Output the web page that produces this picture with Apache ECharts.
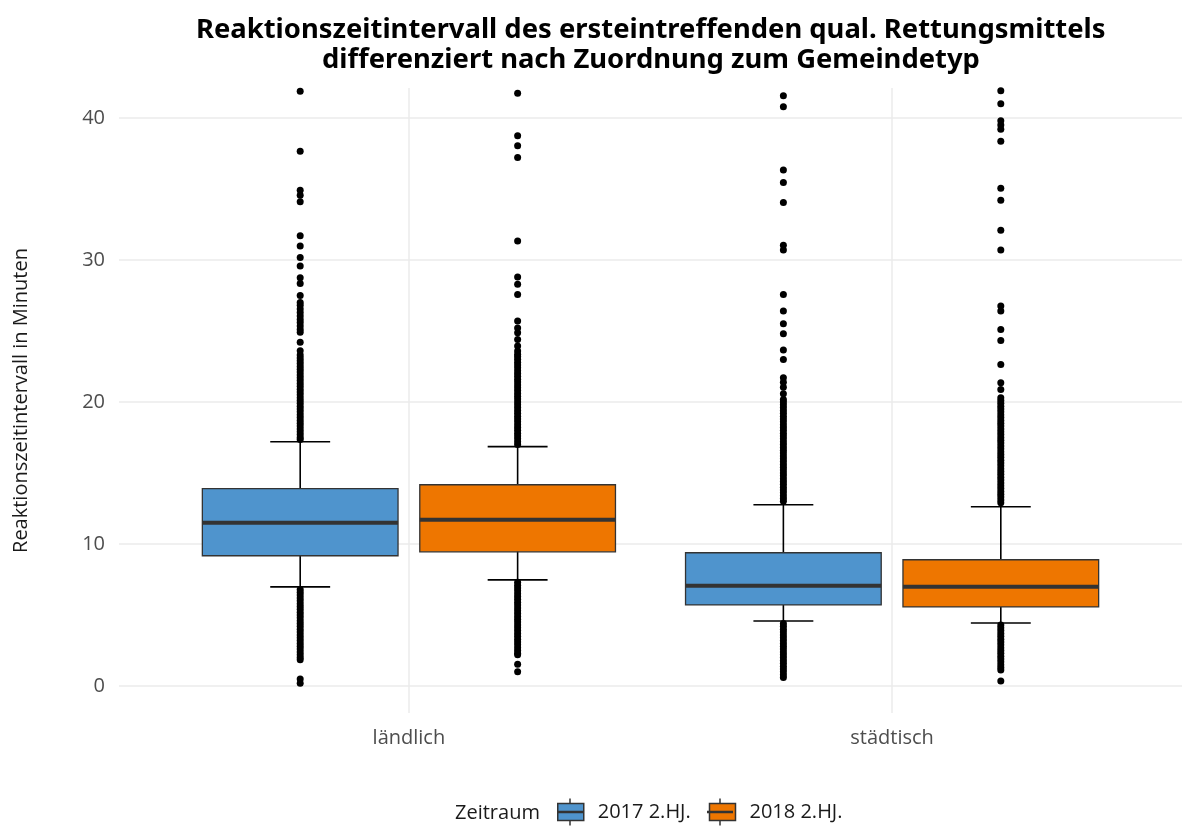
<!DOCTYPE html>
<html><head><meta charset="utf-8">
<script src="https://cdn.jsdelivr.net/npm/echarts@6/dist/echarts.min.js"></script>
<style>html,body{margin:0;padding:0;background:#fff}#c{width:1182px;height:827px}</style>
</head><body><div id="c"></div>
<script>
// ---- data ----
const categories = ['ländlich', 'städtisch'];
const periods = ['2017 2.HJ.', '2018 2.HJ.'];
const periodColors = ['#4F94CD', '#EE7600'];
const yTicks = [0, 10, 20, 30, 40];
const titleLines = ['Reaktionszeitintervall des ersteintreffenden qual. Rettungsmittels', 'differenziert nach Zuordnung zum Gemeindetyp'];
// [lowerWhisker, Q1, median, Q3, upperWhisker] per category
const stats2017 = [[6.98, 9.17, 11.5, 13.9, 17.2], [4.58, 5.71, 7.05, 9.38, 12.76]];
const stats2018 = [[7.47, 9.45, 11.7, 14.17, 16.85], [4.44, 5.57, 6.98, 8.89, 12.62]];
// outliers per category
const outliers2017 = [
  [41.87, 37.64, 34.9, 34.55, 34.1, 31.69, 30.98, 30.16, 29.57, 28.75, 28.33, 27.5, 27.0, 26.8, 26.55, 26.3, 26.05, 25.8, 25.6, 25.35, 25.1, 24.9, 24.2, 23.6, 23.3, 23.1, 22.9, 22.7, 22.5, 22.3, 22.1, 21.9, 21.7, 21.5, 21.3, 21.1, 20.9, 20.7, 20.5, 20.3, 20.1, 19.9, 19.7, 19.5, 19.3, 19.1, 18.9, 18.7, 18.5, 18.3, 18.1, 17.9, 17.7, 17.5, 17.35,
   6.8, 6.6, 6.4, 6.2, 6.0, 5.8, 5.6, 5.4, 5.2, 5.0, 4.8, 4.6, 4.4, 4.2, 4.0, 3.8, 3.6, 3.4, 3.2, 3.0, 2.8, 2.6, 2.4, 2.2, 2.0, 1.85, 0.5, 0.2],
  [41.56, 40.78, 36.32, 35.45, 34.04, 31.03, 30.7, 27.57, 26.4, 25.5, 24.8, 23.65, 22.99, 21.7, 21.39, 21.04, 20.57, 20.17, 20.0, 19.8, 19.6, 19.4, 19.2, 19.0, 18.8, 18.6, 18.4, 18.2, 18.0, 17.8, 17.6, 17.4, 17.2, 17.0, 16.8, 16.6, 16.4, 16.2, 16.0, 15.8, 15.6, 15.4, 15.2, 15.0, 14.8, 14.6, 14.4, 14.2, 14.0, 13.8, 13.6, 13.4, 13.2, 13.0,
   4.4, 4.2, 4.0, 3.8, 3.6, 3.4, 3.2, 3.0, 2.8, 2.6, 2.4, 2.2, 2.0, 1.8, 1.6, 1.4, 1.2, 1.0, 0.8, 0.6]
];
const outliers2018 = [
  [41.73, 38.74, 38.03, 37.21, 31.33, 28.8, 28.28, 27.57, 25.69, 25.2, 24.87, 24.4, 23.93, 23.58, 23.35, 23.2, 23.0, 22.8, 22.6, 22.4, 22.2, 22.0, 21.8, 21.6, 21.4, 21.2, 21.0, 20.8, 20.6, 20.4, 20.2, 20.0, 19.8, 19.6, 19.4, 19.2, 19.0, 18.8, 18.6, 18.4, 18.2, 18.0, 17.8, 17.6, 17.4, 17.2, 17.0,
   7.3, 7.1, 6.9, 6.7, 6.5, 6.3, 6.1, 5.9, 5.7, 5.5, 5.3, 5.1, 4.9, 4.7, 4.5, 4.3, 4.1, 3.9, 3.7, 3.5, 3.3, 3.1, 2.9, 2.7, 2.5, 2.3, 2.2, 1.53, 1.01],
  [41.9, 41.0, 39.8, 39.5, 39.2, 38.35, 35.05, 34.2, 32.09, 30.7, 26.75, 26.4, 25.1, 24.33, 22.64, 21.35, 20.87, 20.3, 20.1, 19.9, 19.7, 19.5, 19.3, 19.1, 18.9, 18.7, 18.5, 18.3, 18.1, 17.9, 17.7, 17.5, 17.3, 17.1, 16.9, 16.7, 16.5, 16.3, 16.1, 15.9, 15.7, 15.5, 15.3, 15.1, 14.9, 14.7, 14.5, 14.3, 14.1, 13.9, 13.7, 13.5, 13.3, 13.1, 12.9,
   4.3, 4.1, 3.9, 3.7, 3.5, 3.3, 3.1, 2.9, 2.7, 2.5, 2.3, 2.1, 1.9, 1.7, 1.5, 1.3, 1.13, 0.35]
];

// ---- chart ----
const DODGE = 0.225, BOXW = 0.405, CAPW = 0.124;
const allStats = [stats2017, stats2018];
const allOut = [outliers2017, outliers2018];
const FONT = 'Open Sans';
const FS = 20;
const TITLE_FONT = 'Noto Sans';
const TITLE_CENTER = 651, TITLE_W = 910;

// fit title font so line 1 spans the reference width, then center each line
const mctx = document.createElement('canvas').getContext('2d');
function textW(t, fs) { mctx.font = 'bold ' + fs + 'px "' + TITLE_FONT + '"'; return mctx.measureText(t).width; }
const titleFS = Math.round(26 * TITLE_W / textW(titleLines[0], 26) * 10) / 10;

function boxRender(pi) {
  return function (params, api) {
    const ci = api.value(0);
    const x = ci + 1 + (pi === 0 ? -DODGE : DODGE);
    const lo = api.coord([x, api.value(1)]);
    const q1 = api.coord([x, api.value(2)]);
    const md = api.coord([x, api.value(3)]);
    const q3 = api.coord([x, api.value(4)]);
    const hi = api.coord([x, api.value(5)]);
    const left = api.coord([x - BOXW / 2, 0])[0];
    const right = api.coord([x + BOXW / 2, 0])[0];
    const cl = api.coord([x - CAPW / 2, 0])[0];
    const cr = api.coord([x + CAPW / 2, 0])[0];
    const line = { stroke: '#000', lineWidth: 1.6 };
    return {
      type: 'group',
      children: [
        { type: 'line', shape: { x1: lo[0], y1: lo[1], x2: hi[0], y2: hi[1] }, style: line },
        { type: 'line', shape: { x1: cl, y1: lo[1], x2: cr, y2: lo[1] }, style: line },
        { type: 'line', shape: { x1: cl, y1: hi[1], x2: cr, y2: hi[1] }, style: line },
        { type: 'rect', shape: { x: left, y: q3[1], width: right - left, height: q1[1] - q3[1] },
          style: { fill: periodColors[pi], stroke: '#333', lineWidth: 1.3 } },
        { type: 'line', shape: { x1: left, y1: md[1], x2: right, y2: md[1] }, style: { stroke: '#333', lineWidth: 4 } }
      ]
    };
  };
}

const series = [];
periods.forEach((p, pi) => {
  series.push({
    name: p, type: 'custom', renderItem: boxRender(pi),
    itemStyle: { color: periodColors[pi] },
    encode: { x: 0, y: [1, 2, 3, 4, 5] },
    data: allStats[pi].map((s, ci) => [ci, ...s]),
    z: 3
  });
});
periods.forEach((p, pi) => {
  const pts = [];
  allOut[pi].forEach((arr, ci) => {
    const x = ci + 1 + (pi === 0 ? -DODGE : DODGE);
    arr.forEach(v => pts.push([x, v]));
  });
  series.push({
    name: p + ' Ausreißer', type: 'scatter', symbolSize: 7,
    itemStyle: { color: '#000', opacity: 1 }, data: pts, z: 4, silent: true
  });
});

// legend key decorations (median line + whisker stubs)
const KEY_W = 26, KEY_H = 17, LEG_CY = 812;
const keyXs = [557, 707];
const keyDeco = [];
keyXs.forEach(kx => {
  const top = LEG_CY - KEY_H / 2, cx = kx + KEY_W / 2;
  keyDeco.push({ type: 'line', z: 100, shape: { x1: kx, y1: LEG_CY, x2: kx + KEY_W, y2: LEG_CY }, style: { stroke: '#333', lineWidth: 2.5 } });
  keyDeco.push({ type: 'line', z: 100, shape: { x1: cx, y1: top - 5, x2: cx, y2: top }, style: { stroke: '#333', lineWidth: 1.5 } });
  keyDeco.push({ type: 'line', z: 100, shape: { x1: cx, y1: top + KEY_H, x2: cx, y2: top + KEY_H + 5 }, style: { stroke: '#333', lineWidth: 1.5 } });
});

const chart = echarts.init(document.getElementById('c'), null, { renderer: 'canvas' });
chart.setOption({
  animation: false,
  backgroundColor: '#fff',
  title: titleLines.map((t, i) => ({
    text: t,
    left: Math.round(TITLE_CENTER - textW(t, titleFS) / 2), top: 15 + i * 30, padding: 0,
    textStyle: { fontFamily: TITLE_FONT, fontWeight: 'bold', fontSize: titleFS, lineHeight: 30, color: '#000' }
  })),
  grid: { left: 119, right: -4, top: 88, bottom: 114, containLabel: false },
  xAxis: {
    type: 'value', min: 0.4, max: 2.6,
    axisLine: { show: false },
    axisTick: { show: false, customValues: [1, 2] },
    axisLabel: { customValues: [1, 2], formatter: v => categories[Math.round(v) - 1] || '',
      color: '#4d4d4d', fontFamily: FONT, fontSize: FS, margin: 15 },
    splitLine: { show: true, lineStyle: { color: '#ebebeb', width: 1.5 } }
  },
  yAxis: {
    type: 'value', min: -1.9, max: 42.1,
    name: 'Reaktionszeitintervall in Minuten', nameLocation: 'middle', nameGap: 88,
    nameTextStyle: { fontFamily: FONT, fontSize: FS, color: '#1a1a1a' },
    axisLine: { show: false },
    axisTick: { show: false, customValues: yTicks },
    axisLabel: { customValues: yTicks, color: '#4d4d4d', fontFamily: FONT, fontSize: FS, margin: 14 },
    splitLine: { show: true, lineStyle: { color: '#ebebeb', width: 1.5 } }
  },
  legend: {
    data: periods.map((p, pi) => ({ name: p, icon: 'rect', itemStyle: { color: periodColors[pi], borderColor: '#333', borderWidth: 1.5 } })),
    left: keyXs[0], top: LEG_CY - 10, padding: 0, itemWidth: KEY_W, itemHeight: KEY_H, itemGap: 18,
    textStyle: { fontFamily: FONT, fontSize: FS, color: '#1a1a1a', padding: [0, 0, 0, 9] },
    selectedMode: false
  },
  graphic: [
    { type: 'text', left: 455, top: LEG_CY - 9, style: { text: 'Zeitraum', fontFamily: FONT, fontSize: FS, fill: '#1a1a1a' } }
  ].concat(keyDeco),
  series: series
});
</script>
</body></html>
